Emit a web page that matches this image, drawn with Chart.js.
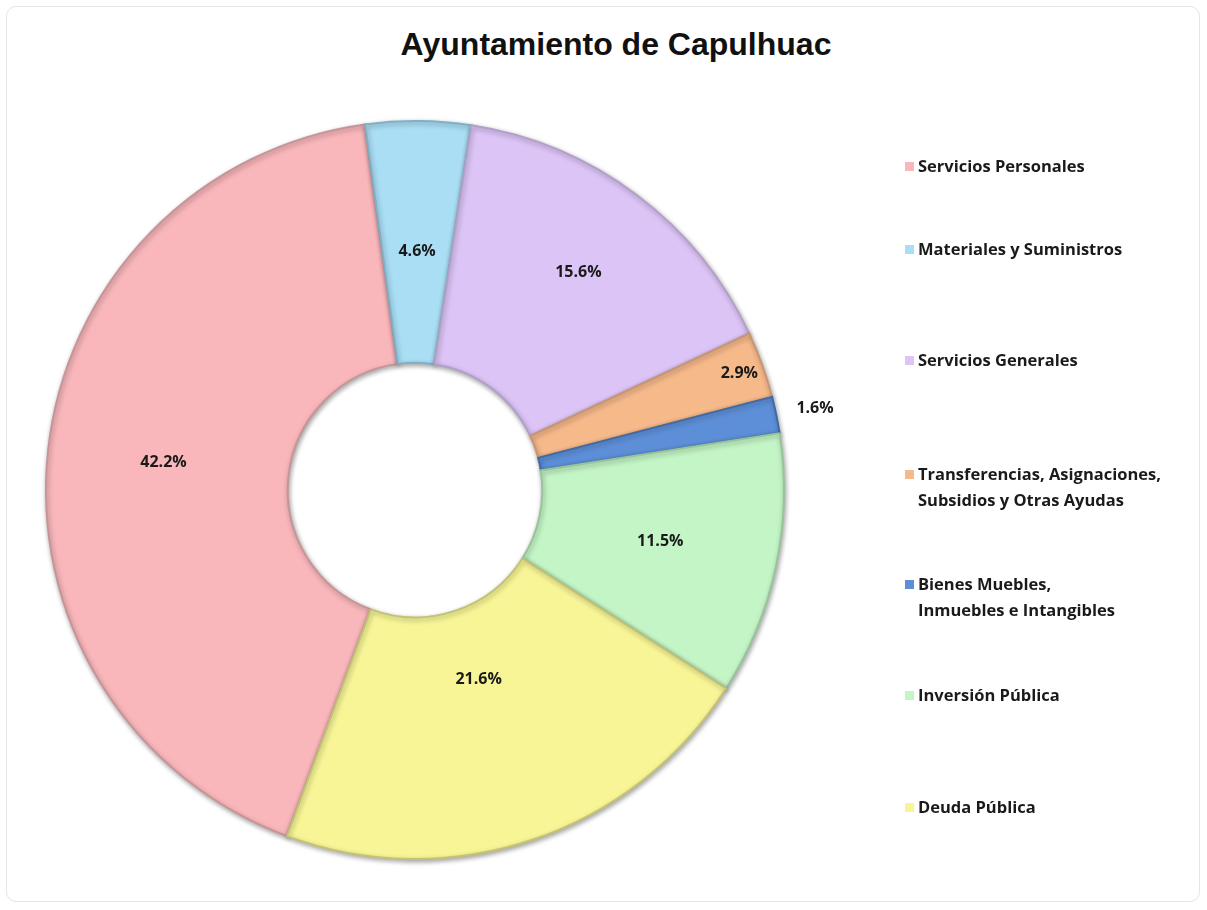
<!DOCTYPE html>
<html>
<head>
<meta charset="utf-8">
<script src="https://cdn.jsdelivr.net/npm/chart.js@4/dist/chart.umd.min.js"></script>
<style>
  html, body { margin: 0; padding: 0; background: #fff; }
  #wrap { position: relative; width: 1207px; height: 910px; overflow: hidden; }
  #card { position: absolute; left: 6px; top: 6px; width: 1194px; height: 896px;
          border: 1px solid #e4e4e4; border-radius: 10px; box-sizing: border-box; }
  #title { position: absolute; left: 0; width: 1232px; top: 26px; text-align: center;
           font: bold 32px "Liberation Sans", Arial, sans-serif; color: #111; }
  #chartBox { position: absolute; left: 0; top: 0; width: 1207px; height: 910px; }
  .lg { position: absolute; left: 905px; font: bold 16.5px "Open Sans", sans-serif; color: #1a1a1a; line-height: 26px; }
  .lg i { position: absolute; left: 0; top: 9px; width: 9px; height: 9px; }
  .lg span { display: block; margin-left: 13px; }
</style>
</head>
<body>
<div id="wrap">
  <div id="card"></div>
  <div id="title">Ayuntamiento de Capulhuac</div>
  <div id="chartBox"><canvas id="pie"></canvas></div>
  <div id="legend"></div>
</div>
<script>
// categorías (las que llevan salto de línea van como arreglo)
const labels = [
  "Servicios Personales",
  "Materiales y Suministros",
  "Servicios Generales",
  ["Transferencias, Asignaciones,", "Subsidios y Otras Ayudas"],
  ["Bienes Muebles,", "Inmuebles e Intangibles"],
  "Inversión Pública",
  "Deuda Pública"
];
// porcentaje del presupuesto
const values = [42.2, 4.6, 15.6, 2.9, 1.6, 11.5, 21.6];

// estilos
const colors  = ["#f9b7bb", "#a9def5", "#dcc4f7", "#f6b98a", "#5d8fd8", "#c3f5c6", "#f7f596"];
const borders = ["#c89498", "#7fb0c6", "#b3a0c8", "#c99670", "#3f6aa6", "#98c49b", "#c4c273"];
const labelPos = [0.52, 0.46, 0.6, 0.9, 1.13, 0.51, 0.3]; // posición radial de las etiquetas
const legendTop = [153, 236, 347, 461, 571, 682, 794];

// leyenda
const legend = document.getElementById("legend");
labels.forEach((lab, i) => {
  const d = document.createElement("div");
  d.className = "lg";
  d.style.top = legendTop[i] + "px";
  const txt = Array.isArray(lab) ? lab.join("<br>") : lab;
  d.innerHTML = `<i style="background:${colors[i]}"></i><span>${txt}</span>`;
  legend.appendChild(d);
});

// sombra de las rebanadas
const shadowPlugin = {
  id: "shadow",
  beforeDatasetsDraw(chart) {
    const c = chart.ctx;
    c.save();
    c.shadowColor = "rgba(0,0,0,0.35)";
    c.shadowBlur = 5;
    c.shadowOffsetX = 1;
    c.shadowOffsetY = 2;
  },
  afterDatasetsDraw(chart) {
    chart.ctx.restore();
  }
};

// etiquetas de porcentaje
const pctLabels = {
  id: "pctLabels",
  afterDraw(chart) {
    const c = chart.ctx;
    const meta = chart.getDatasetMeta(0);
    c.save();
    c.font = "bold 16px 'Open Sans', sans-serif";
    c.fillStyle = "#1a1a1a";
    c.textAlign = "center";
    c.textBaseline = "middle";
    meta.data.forEach((arc, i) => {
      const p = arc.getProps(["x", "y", "startAngle", "endAngle", "innerRadius", "outerRadius"], true);
      const mid = (p.startAngle + p.endAngle) / 2;
      const r = p.innerRadius + (p.outerRadius - p.innerRadius) * labelPos[i];
      let x = p.x + Math.cos(mid) * r;
      const y = p.y + Math.sin(mid) * r;
      if (labelPos[i] > 1) x += 8;
      c.fillText(values[i].toFixed(1) + "%", x, y);
    });
    c.restore();
  }
};

const ctx = document.getElementById("pie").getContext("2d");
const chart = new Chart(ctx, {
  type: "doughnut",
  data: {
    labels: labels,
    datasets: [{
      data: values,
      backgroundColor: colors,
      borderColor: borders,
      borderWidth: 2,
      borderJoinStyle: "miter"
    }]
  },
  options: {
    responsive: true,
    maintainAspectRatio: false,
    animation: false,
    rotation: -159.7,
    cutout: "34.5%",
    layout: { padding: { left: 40, top: 120, right: 417, bottom: 50 } },
    plugins: {
      legend: { display: false },
      tooltip: { enabled: false }
    }
  },
  plugins: [shadowPlugin, pctLabels]
});
</script>
</body>
</html>
